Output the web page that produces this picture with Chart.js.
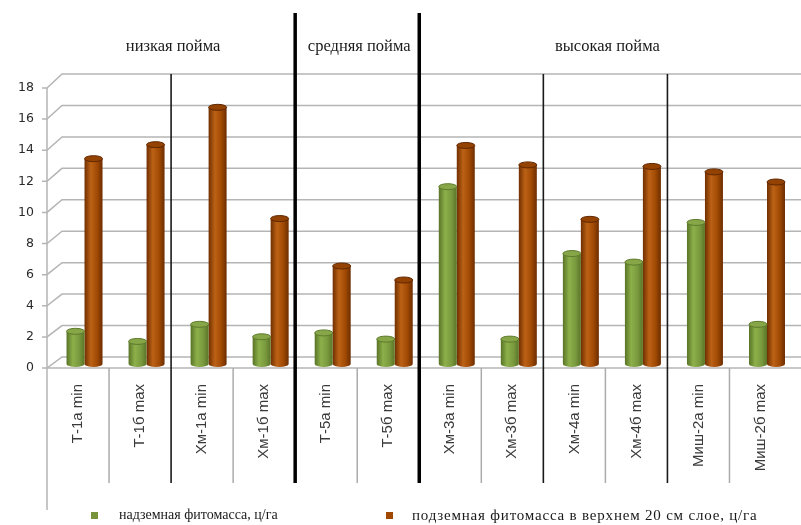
<!DOCTYPE html>
<html><head><meta charset="utf-8">
<script src="https://cdn.jsdelivr.net/npm/chart.js@4.4.1/dist/chart.umd.min.js"></script>
<style>
html,body{margin:0;padding:0;background:#fff;overflow:hidden}
#wrap{position:relative;width:801px;height:525px;overflow:hidden}
canvas{position:absolute;left:0;top:0}
.grp{position:absolute;font:16.5px 'Liberation Serif',serif;color:#1a1a1a;white-space:nowrap;transform:translate(-50%,-50%)}
.lg{position:absolute;font-family:'Liberation Serif',serif;color:#1a1a1a;white-space:nowrap;transform:translateY(-50%)}
.sw{position:absolute;width:7px;height:7px}
</style></head><body>
<div id="wrap"><canvas id="c" width="801" height="525"></canvas></div>
<script>
const categories = ['Т-1а min','Т-1б max','Хм-1а min','Хм-1б max','Т-5а min','Т-5б max','Хм-3а min','Хм-3б max','Хм-4а min','Хм-4б max','Миш-2а min','Миш-2б max'];
const groups = ['низкая пойма','средняя пойма','высокая пойма'];
const groupSpans = [[0,4],[4,6],[6,12]];
const subgroupBreaks = [2, 8, 10];
const groupBreaks = [4, 6];
const seriesNames = ['надземная фитомасса, ц/га','подземная фитомасса в верхнем 20 см слое, ц/га'];
const aboveGround = [2.1, 1.45, 2.55, 1.75, 2.0, 1.6, 11.4, 1.6, 7.1, 6.55, 9.1, 2.55];
const belowGround = [13.2, 14.1, 16.5, 9.35, 6.3, 5.4, 14.05, 12.8, 9.3, 12.7, 12.35, 11.7];
const yTickValues = [0, 2, 4, 6, 8, 10, 12, 14, 16, 18];

const CAT_PCT = 0.58;
const SHIFT = 6.5;      // 3D depth shift of bars vs. label boxes
const WALL_DX = 15;     // back wall offset to the right
const GRID = '#b5b5b5';
const swatch = ['#77933C', '#A04800'];
const stopsList = [
  ['#587326', '#8DB04A', '#7A9A3E', '#5A7528'],
  ['#702F00', '#BC6216', '#A14A04', '#6C2D00']
];
const capColors = [['#86A648', '#5E7A2C'], ['#944202', '#5F2700']];

function cylFill(di) {
  return (c) => {
    const chart = c.chart, xs = chart.scales.x;
    if (c.dataIndex === undefined || !xs || !chart.chartArea) return swatch[di];
    const cat = xs.width / categories.length;
    const bw = cat * CAT_PCT / 2;
    const cx = xs.getPixelForValue(c.dataIndex) + (di === 0 ? -bw / 2 : bw / 2);
    const g = chart.ctx.createLinearGradient(cx - bw / 2, 0, cx + bw / 2, 0);
    const s = stopsList[di];
    g.addColorStop(0, s[0]); g.addColorStop(0.35, s[1]); g.addColorStop(0.7, s[2]); g.addColorStop(1, s[3]);
    return g;
  };
}

function boundary(xs, k) { return xs.getPixelForValue(k - 0.5) - SHIFT; }
function yBack(ys, v) { return ys.getPixelForValue(v) - 11 - 3 * (v / 18); }

const framePlugin = {
  id: 'frame',
  beforeDatasetsDraw(chart) {
    const {ctx, scales: {x: xs, y: ys}} = chart;
    const fx = boundary(xs, 0);
    const W = chart.width;
    ctx.save();
    ctx.strokeStyle = GRID; ctx.lineWidth = 1.5;
    ys.ticks.forEach(t => {
      const yf = ys.getPixelForValue(t.value), yb = yBack(ys, t.value);
      ctx.beginPath();
      ctx.moveTo(fx - 5, yf); ctx.lineTo(fx, yf);
      ctx.lineTo(fx + WALL_DX, yb); ctx.lineTo(W, yb);
      ctx.stroke();
    });
    ctx.beginPath();
    ctx.moveTo(fx, ys.getPixelForValue(18)); ctx.lineTo(fx, xs.bottom + 27);
    ctx.moveTo(fx, ys.bottom); ctx.lineTo(W, ys.bottom);
    ctx.stroke();
    ctx.strokeStyle = '#ababab'; ctx.lineWidth = 1.5;
    for (let k = 1; k < categories.length; k++) {
      if (subgroupBreaks.includes(k) || groupBreaks.includes(k)) continue;
      const bx = boundary(xs, k);
      ctx.beginPath(); ctx.moveTo(bx, ys.bottom); ctx.lineTo(bx, xs.bottom); ctx.stroke();
    }
    chart.getSortedVisibleDatasetMetas().forEach(meta => {
      meta.data.forEach(el => {
        const p = el.getProps(['x', 'base', 'width'], true);
        ctx.fillStyle = el.options.backgroundColor;
        ctx.beginPath(); ctx.ellipse(p.x, p.base, p.width / 2, 3, 0, 0, Math.PI); ctx.fill();
      });
    });
    ctx.restore();
  },
  afterDatasetsDraw(chart) {
    const {ctx, scales: {x: xs, y: ys}} = chart;
    ctx.save();
    chart.getSortedVisibleDatasetMetas().forEach((meta, di) => {
      meta.data.forEach(el => {
        const p = el.getProps(['x', 'y', 'width'], true);
        ctx.beginPath(); ctx.ellipse(p.x, p.y, p.width / 2, 3, 0, 0, Math.PI * 2);
        ctx.fillStyle = capColors[di][0]; ctx.fill();
        ctx.strokeStyle = capColors[di][1]; ctx.lineWidth = 1; ctx.stroke();
      });
    });
    ctx.strokeStyle = '#1a1a1a'; ctx.lineWidth = 1.6;
    subgroupBreaks.forEach(k => {
      const bx = boundary(xs, k);
      ctx.beginPath(); ctx.moveTo(bx, yBack(ys, 18)); ctx.lineTo(bx, xs.bottom); ctx.stroke();
    });
    ctx.strokeStyle = '#000'; ctx.lineWidth = 3.5;
    groupBreaks.forEach(k => {
      const bx = boundary(xs, k);
      ctx.beginPath(); ctx.moveTo(bx, 13); ctx.lineTo(bx, xs.bottom); ctx.stroke();
    });
    ctx.restore();
  }
};

const chart = new Chart(document.getElementById('c'), {
  type: 'bar',
  data: {
    labels: categories,
    datasets: [
      {label: seriesNames[0], data: aboveGround, backgroundColor: cylFill(0), yAxisID: 'yb', xAxisID: 'x'},
      {label: seriesNames[1], data: belowGround, backgroundColor: cylFill(1), yAxisID: 'yb', xAxisID: 'x'}
    ]
  },
  options: {
    responsive: false,
    animation: false,
    devicePixelRatio: 1,
    datasets: {bar: {categoryPercentage: CAT_PCT, barPercentage: 1.0}},
    layout: {padding: {left: 0, right: -2.5, top: 88, bottom: 42}},
    plugins: {legend: {display: false}, tooltip: {enabled: false}},
    scales: {
      x: {
        type: 'category', offset: true,
        grid: {display: false, drawTicks: false}, border: {display: false},
        ticks: {minRotation: 90, maxRotation: 90, autoSkip: false, padding: 16, labelOffset: -SHIFT,
                color: '#3a3a3a', font: {family: 'Liberation Sans', size: 15}},
        afterFit(s) { s.height = 115; }
      },
      y: {
        min: 0, max: 18,
        grid: {display: false, drawTicks: false}, border: {display: false},
        ticks: {padding: 19.5, color: '#2a2a2a', font: {family: 'DejaVu Sans', size: 12.5}},
        afterBuildTicks(s) { s.ticks = yTickValues.map(v => ({value: v})); },
        afterFit(s) { s.width = 53.5; }
      },
      yb: {display: false, min: -0.257, max: 17.743}
    }
  },
  plugins: [framePlugin]
});

const wrap = document.getElementById('wrap');
const xs = chart.scales.x;
groups.forEach((g, i) => {
  const d = document.createElement('div');
  d.className = 'grp'; d.textContent = g;
  const cx = (boundary(xs, groupSpans[i][0]) + boundary(xs, groupSpans[i][1])) / 2;
  d.style.left = (cx + 2) + 'px'; d.style.top = '46px';
  wrap.appendChild(d);
});
const legendX = [[91, 119], [386, 412]];
const legendFont = ['14px', '15px'];
const legendSpacing = ['0px', '0.8px'];
seriesNames.forEach((n, i) => {
  const s = document.createElement('div');
  s.className = 'sw'; s.style.background = swatch[i];
  s.style.left = legendX[i][0] + 'px'; s.style.top = '512px';
  wrap.appendChild(s);
  const t = document.createElement('div');
  t.className = 'lg'; t.textContent = n;
  t.style.fontSize = legendFont[i];
  t.style.letterSpacing = legendSpacing[i];
  t.style.left = legendX[i][1] + 'px'; t.style.top = '515px';
  wrap.appendChild(t);
});
</script>
</body></html>
